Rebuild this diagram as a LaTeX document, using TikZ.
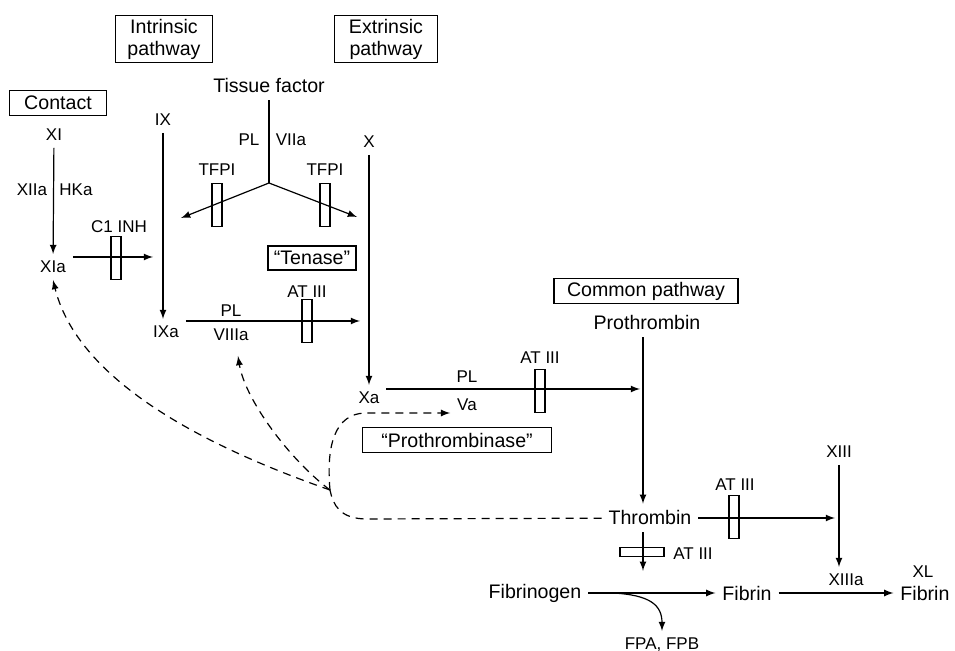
\documentclass[tikz,border=0pt]{standalone}
\usepackage{fontspec}
\setmainfont{Liberation Sans}
\usepackage{tikz}
\usetikzlibrary{arrows}

\begin{document}
\begin{tikzpicture}[x=0.5pt,y=-0.5pt,
  lbl/.style={font=\fontsize{8.5}{10}\selectfont},
  main/.style={font=\fontsize{9.8}{11.5}\selectfont},
  stage/.style={draw, line width=0.6pt, font=\fontsize{9.8}{11}\selectfont, align=center, inner sep=1pt},
  bar/.style={draw, line width=0.6pt, minimum width=5pt, minimum height=21.5pt, inner sep=0pt},
  hbar/.style={draw, line width=0.6pt, minimum width=22pt, minimum height=4.5pt, inner sep=0pt},
  arr/.style={->, >=latex, line width=0.6pt},
  dsh/.style={dash pattern=on 4pt off 3pt, line width=0.6pt},
  dsharr/.style={dsh, ->, >=latex}]
\useasboundingbox (0,0) rectangle (955,651);
\node[stage, minimum width=48.5pt, minimum height=23.5pt] (intr) at (164,39) {Intrinsic\\pathway};
\node[stage, minimum width=51.5pt, minimum height=23.5pt] (extr) at (386,39) {Extrinsic\\pathway};
\node[stage, minimum width=48.5pt, minimum height=12.5pt] (cont) at (58,103) {Contact};
\node[stage, minimum width=44pt, minimum height=12pt] (ten) at (312,258) {``Tenase''};
\node[stage, minimum width=92pt, minimum height=12.5pt] (comm) at (646,291) {Common pathway};
\node[stage, minimum width=94.5pt, minimum height=12.5pt] (prase) at (457,440) {``Prothrombinase''};
\node[main] (tf) at (269,86) {Tissue factor};
\node[lbl] (pl1) at (249,140) {PL};
\node[lbl] (vii) at (291,140) {VIIa};
\node[lbl] (tfpi1) at (217,170) {TFPI};
\node[lbl] (tfpi2) at (325,170) {TFPI};
\node[lbl] (xi) at (54,135) {XI};
\node[lbl] (xii) at (32,190) {XIIa};
\node[lbl] (hk) at (76,190) {HKa};
\node[lbl] (xia) at (53,267) {XIa};
\node[lbl] (c1) at (119,227) {C1 INH};
\node[lbl] (ix) at (163,120) {IX};
\node[lbl] (ixa) at (166,332) {IXa};
\node[lbl] (pl2) at (231,311) {PL};
\node[lbl] (viii) at (231,335) {VIIIa};
\node[lbl] (at1) at (307,292) {AT III};
\node[lbl] (x) at (369,142) {X};
\node[lbl] (xa) at (369,398) {Xa};
\node[lbl] (pl3) at (467,377) {PL};
\node[lbl] (va) at (467,405) {Va};
\node[lbl] (at2) at (540,358) {AT III};
\node[main] (pro) at (647,323) {Prothrombin};
\node[main] (thr) at (650,518) {Thrombin};
\node[lbl] (at3) at (735,485) {AT III};
\node[lbl] (xiii) at (839,452) {XIII};
\node[lbl] (at4) at (693,554) {AT III};
\node[lbl] (xiiia) at (846,580) {XIIIa};
\node[main] (fbg) at (535,593) {Fibrinogen};
\node[main] (fbn) at (747,593) {Fibrin};
\node[lbl] (xl) at (923,572) {XL};
\node[main] (xlf) at (925,593) {Fibrin};
\node[lbl] (fpa) at (662,645) {FPA, FPB};
\coordinate (tfj) at (269,183);
\coordinate (tfl) at (181,218);
\coordinate (tfr) at (357,217);
\coordinate (c1e) at (153,257);
\coordinate (tene) at (360,321);
\coordinate (prae) at (640,389);
\coordinate (xiiie) at (835,518);
\coordinate (split) at (613,593);
\coordinate (hub) at (330,490);
\draw[line width=0.6pt] (tf) -- (tfj);
\draw[arr] (tfj) -- (tfl);
\draw[arr] (tfj) -- (tfr);
\draw[arr] (xi) -- (xia);
\draw[arr] ([yshift=5pt]xia.east) -- (c1e);
\draw[arr] (ix) -- (ix |- ixa.north);
\draw[arr] ([yshift=5.5pt]ixa.east) -- (tene);
\draw[arr] (x) -- (x |- xa.north);
\draw[arr] ([yshift=4.5pt]xa.east) -- (prae);
\draw[arr] ([xshift=-2pt]pro.south) -- ([xshift=-3.5pt]thr.north);
\draw[arr] (thr) -- (xiiie);
\draw[arr] (xiii) -- (xiii |- xiiia.north);
\draw[arr] ([xshift=-3.5pt]thr.south) -- ([xshift=-3.5pt,yshift=3pt]thr.south |- fbg.north);
\draw[arr] (fbg) -- (fbn);
\draw[arr] (fbn) -- (xlf);
\draw[arr] (split) .. controls (650,595) and (662,605) .. (fpa.north);
\node[bar] (b1) at (217,205) {};
\node[bar] (b2) at (325,205) {};
\node[bar] (b3) at (116,258) {};
\node[bar] (b4) at (307,321) {};
\node[bar] (b5) at (540,391) {};
\node[bar] (b6) at (734,517) {};
\node[hbar] (b7) at (642,552) {};
\draw[dsh] (thr) -- (367,519) .. controls (340,519) and (333,505) .. (hub);
\draw[dsharr] (hub) .. controls (230,455) and (80,390) .. (xia.south);
\draw[dsharr] (hub) .. controls (290,460) and (245,400) .. ([xshift=3.5pt,yshift=-4pt]viii.south);
\draw[dsharr] (hub) .. controls (326,445) and (335,414) .. (365,413) -- ([yshift=-4pt]va.west);
\end{tikzpicture}
\end{document}
